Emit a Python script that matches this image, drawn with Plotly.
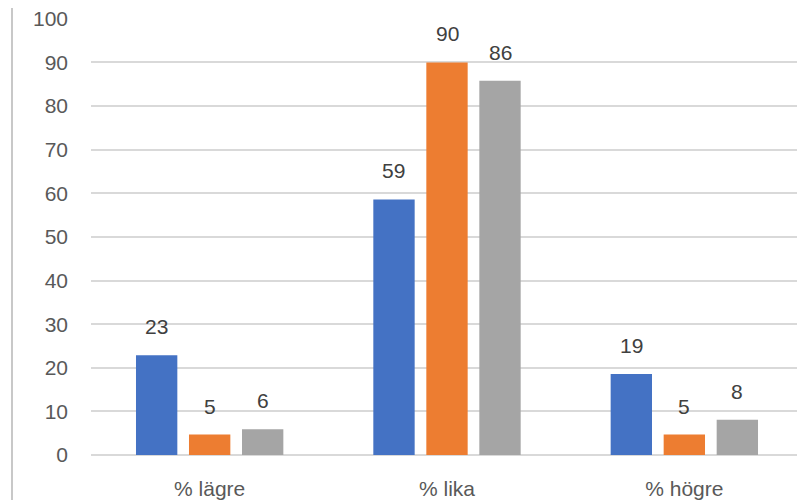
import plotly.graph_objects as go

categories = ["% lägre", "% lika", "% högre"]
series_a = [22.9, 58.6, 18.6]
series_b = [4.7, 90.0, 4.7]
series_c = [5.9, 85.8, 8.1]
y_ticks = [0, 10, 20, 30, 40, 50, 60, 70, 80, 90, 100]

colors = ["#4472C4", "#ED7D31", "#A5A5A5"]
font = "Liberation Sans, Arial, sans-serif"

# the page body has an 8px margin, so the margins below are shifted by that
W, H = 805, 500
ml, mr, mt, mb = 83, 10, 10, 53
bargap = 0.33
bargroupgap = 0.22

fig = go.Figure()
all_series = [series_a, series_b, series_c]
for vals, col in zip(all_series, colors):
    fig.add_trace(go.Bar(x=categories, y=vals, marker=dict(color=col, line_width=0),
                         hoverinfo="y"))

# data labels as annotations, sitting a bit above the bars like Excel does
plot_w = W - ml - mr
pitch = plot_w / len(categories) * (1 - bargap) / len(all_series)
annotations = []
for i, vals in enumerate(all_series):
    for cat, v in zip(categories, vals):
        annotations.append(dict(
            x=cat, y=v, xref="x", yref="y", text=f"{v:.0f}", showarrow=False,
            xshift=(i - 1) * pitch, yshift=15, yanchor="bottom",
            font=dict(family=font, size=21, color="#404040"),
        ))

border_x = -(ml - 4) / plot_w
fig.update_layout(
    width=W, height=H,
    margin=dict(l=ml, r=mr, t=mt, b=mb),
    barmode="group", bargap=bargap, bargroupgap=bargroupgap,
    plot_bgcolor="white", paper_bgcolor="white",
    showlegend=False,
    annotations=annotations,
    shapes=[dict(type="line", xref="paper", yref="paper",
                 x0=border_x, x1=border_x, y0=-0.3, y1=1.2,
                 line=dict(color="#C8C8C8", width=2))],
)
fig.update_xaxes(showgrid=False, showline=False, ticks="", automargin=False,
                 tickfont=dict(family=font, size=21, color="#595959"),
                 ticklabelstandoff=19)
fig.update_yaxes(range=[0, 100.2], tickvals=y_ticks, showgrid=True, gridcolor="#D9D9D9",
                 gridwidth=1.5, zeroline=True, zerolinecolor="#D9D9D9", zerolinewidth=1.5,
                 showline=False, ticks="", ticklabelstandoff=22, automargin=False,
                 ticklabeloverflow="allow",
                 tickfont=dict(family=font, size=21, color="#595959"))

fig.write_html("out.html")
